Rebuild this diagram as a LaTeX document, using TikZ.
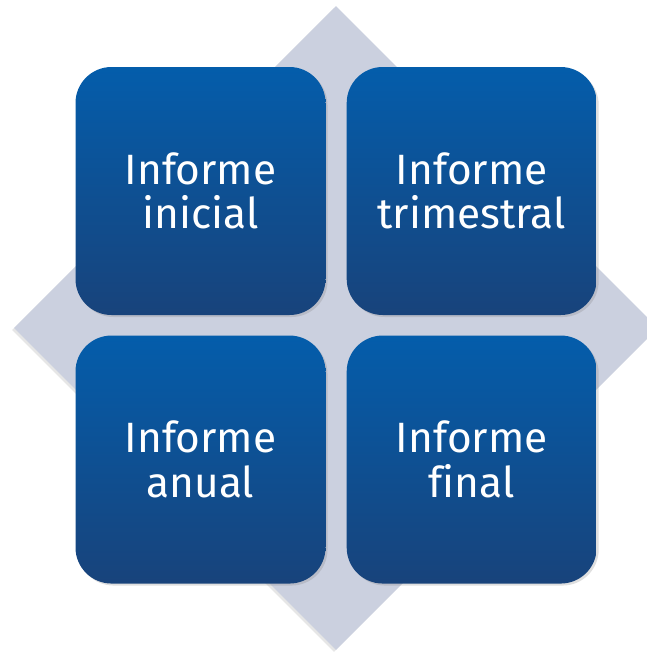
\documentclass[tikz,border=0pt]{standalone}
\usepackage{fontspec}
\setsansfont{Fira Sans}[Ligatures=CommonOff]
\usetikzlibrary{
  positioning,
  shapes.geometric,
  shadows
}
\definecolor{diamondcolor}{RGB}{203,208,223}
\definecolor{boxtop}{RGB}{4,93,171}
\definecolor{boxmid}{RGB}{10,85,158}
\definecolor{boxbottom}{RGB}{24,67,123}

\begin{document}
\begin{tikzpicture}[x=0.75pt, y=-0.75pt, font=\sffamily,
  reportbox/.style={rounded corners=27pt, minimum width=187.5pt, minimum height=186pt,
    top color=boxtop, middle color=boxmid, bottom color=boxbottom,
    text=white, align=center, inner sep=0pt,
    font=\sffamily\fontsize{31.8}{33.4}\selectfont,
    drop shadow={opacity=0.25, shadow xshift=1.5pt, shadow yshift=-1.5pt}}]

  \useasboundingbox (0,0) rectangle (646,653);

  % ---- background diamond ----
  \node[diamond, aspect=1, minimum width=483pt, minimum height=483pt, inner sep=0pt,
        fill=diamondcolor,
        drop shadow={opacity=0.2, shadow xshift=-1.5pt, shadow yshift=-1.5pt}]
    (backdiamond) at (336,328) {};

  % ---- the four reports ----
  \node[reportbox] (inicial) at (200.5,191) {Informe\\inicial};
  \node[reportbox, right=15.5pt of inicial] (trimestral) {Informe\\trimestral};
  \node[reportbox, below=15pt of inicial] (anual) {Informe\\anual};
  \node[reportbox, right=15.5pt of anual] (final) {Informe\\final};

\end{tikzpicture}
\end{document}
